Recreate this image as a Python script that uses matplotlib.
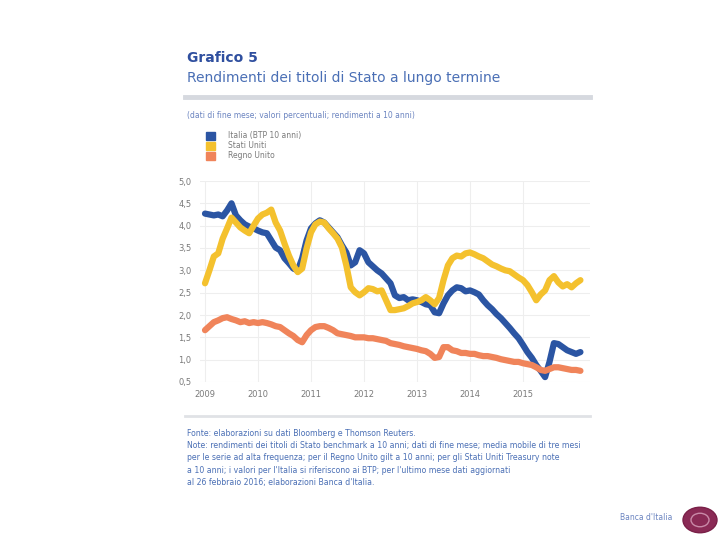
import numpy as np
import matplotlib
matplotlib.use("Agg")
import matplotlib.pyplot as plt
from matplotlib.patches import Circle

# monthly data, Jan 2009 - Feb 2016
start_year = 2009
blue = [4.27, 4.25, 4.23, 4.25, 4.21, 4.34, 4.50, 4.23, 4.12, 4.03, 3.98, 3.94,
        3.89, 3.85, 3.83, 3.67, 3.51, 3.45, 3.27, 3.16, 3.04, 3.00, 3.27, 3.67,
        3.94, 4.05, 4.12, 4.07, 3.96, 3.85, 3.74, 3.56, 3.40, 3.11, 3.18, 3.45,
        3.38, 3.18, 3.09, 3.00, 2.93, 2.82, 2.71, 2.44, 2.38, 2.40, 2.33, 2.35,
        2.33, 2.29, 2.24, 2.22, 2.06, 2.04, 2.26, 2.44, 2.55, 2.62, 2.60, 2.53,
        2.55, 2.51, 2.46, 2.33, 2.22, 2.13, 2.02, 1.93, 1.82, 1.71, 1.59, 1.48,
        1.33, 1.17, 1.04, 0.88, 0.75, 0.61, 0.95, 1.37, 1.35, 1.28, 1.21, 1.17,
        1.13, 1.17]
yellow = [2.71, 3.00, 3.31, 3.38, 3.71, 3.94, 4.18, 4.07, 3.96, 3.89, 3.83, 4.00,
          4.16, 4.25, 4.29, 4.36, 4.07, 3.89, 3.60, 3.33, 3.11, 2.96, 3.04, 3.49,
          3.85, 4.03, 4.09, 4.07, 3.94, 3.83, 3.71, 3.51, 3.11, 2.62, 2.51, 2.44,
          2.51, 2.60, 2.58, 2.53, 2.55, 2.33, 2.11, 2.11, 2.13, 2.15, 2.20, 2.26,
          2.29, 2.33, 2.40, 2.33, 2.24, 2.38, 2.78, 3.11, 3.27, 3.33, 3.31, 3.38,
          3.40, 3.36, 3.31, 3.27, 3.20, 3.13, 3.09, 3.04, 3.00, 2.98, 2.91, 2.84,
          2.78, 2.67, 2.51, 2.33, 2.46, 2.55, 2.78, 2.87, 2.73, 2.64, 2.69, 2.62,
          2.71, 2.78]
orange = [1.66, 1.75, 1.84, 1.88, 1.93, 1.95, 1.91, 1.88, 1.84, 1.86, 1.82, 1.84,
          1.82, 1.84, 1.82, 1.79, 1.75, 1.73, 1.66, 1.59, 1.53, 1.44, 1.39, 1.55,
          1.66, 1.73, 1.75, 1.75, 1.71, 1.66, 1.59, 1.57, 1.55, 1.53, 1.50, 1.50,
          1.50, 1.48, 1.48, 1.46, 1.44, 1.42, 1.37, 1.35, 1.33, 1.30, 1.28, 1.26,
          1.24, 1.21, 1.19, 1.13, 1.04, 1.06, 1.28, 1.28, 1.21, 1.19, 1.15, 1.15,
          1.13, 1.13, 1.10, 1.08, 1.08, 1.06, 1.04, 1.01, 0.99, 0.97, 0.95, 0.95,
          0.92, 0.90, 0.88, 0.83, 0.77, 0.75, 0.79, 0.83, 0.83, 0.81, 0.79, 0.77,
          0.77, 0.75]
labels = ["Italia (BTP 10 anni)", "Stati Uniti", "Regno Unito"]
colors = ["#2b55a3", "#f4c12e", "#f0845a"]
year_ticks = [2009, 2010, 2011, 2012, 2013, 2014, 2015]
y_ticks = [0.5, 1.0, 1.5, 2.0, 2.5, 3.0, 3.5, 4.0, 4.5, 5.0]

t = start_year + np.arange(len(blue)) / 12.0

fig = plt.figure(figsize=(7.2, 5.4), dpi=100)
fig.patch.set_facecolor("white")

ax = fig.add_axes([200 / 720, 1 - 382 / 540, 390 / 720, 201 / 540])
for vals, c in zip([blue, yellow, orange], colors):
    ax.plot(t, vals, color=c, lw=4.5, solid_capstyle="round", solid_joinstyle="round")

ax.set_ylim(0.5, 5.0)
ax.set_xlim(2009 - 5 / 53, 2009 + 390 / 53 - 5 / 53)
ax.set_yticks(y_ticks)
ax.set_yticklabels([f"{v:.1f}".replace(".", ",") for v in y_ticks])
ax.set_xticks(year_ticks)
ax.set_xticklabels([str(y) for y in year_ticks])
ax.tick_params(length=0, labelsize=6, colors="#7a7a7a", pad=6)
ax.grid(True, color="#eeeeee", lw=0.8)
ax.set_axisbelow(True)
for s in ax.spines.values():
    s.set_visible(False)

# header
fig.text(187 / 720, 1 - 58 / 540, "Grafico 5", fontsize=10, fontweight="bold",
         color="#2f4f9f", va="center")
fig.text(187 / 720, 1 - 78 / 540, "Rendimenti dei titoli di Stato a lungo termine",
         fontsize=10, color="#4a6fb5", va="center")
fig.add_artist(plt.Line2D([185 / 720, 590 / 720], [1 - 97 / 540] * 2, color="#d6d9df", lw=3.5))
fig.text(187 / 720, 1 - 115 / 540, "(dati di fine mese; valori percentuali; rendimenti a 10 anni)",
         fontsize=5.5, color="#6b84c0", va="center")

# legend
for i, (lab, c) in enumerate(zip(labels, colors)):
    yy = 1 - (136 + 10 * i) / 540
    fig.patches.append(plt.Rectangle((206 / 720, yy - 4 / 540), 9 / 720, 8 / 540,
                                     color=c, transform=fig.transFigure))
    fig.text(228 / 720, yy, lab, fontsize=5.5, color="#7a7a7a", va="center")

# footer
fig.add_artist(plt.Line2D([185 / 720, 590 / 720], [1 - 416 / 540] * 2, color="#e0e2e6", lw=2))
notes = [
    "Fonte: elaborazioni su dati Bloomberg e Thomson Reuters.",
    "Note: rendimenti dei titoli di Stato benchmark a 10 anni; dati di fine mese; media mobile di tre mesi",
    "per le serie ad alta frequenza; per il Regno Unito gilt a 10 anni; per gli Stati Uniti Treasury note",
    "a 10 anni; i valori per l'Italia si riferiscono ai BTP; per l'ultimo mese dati aggiornati",
    "al 26 febbraio 2016; elaborazioni Banca d'Italia.",
]
for i, line in enumerate(notes):
    fig.text(187 / 720, 1 - (433 + 12.5 * i) / 540, line, fontsize=5.6, color="#4a6fb5", va="center")

fig.text(672 / 720, 1 - 517 / 540, "Banca d'Italia", fontsize=5.5, color="#6b84c0",
         va="center", ha="right")
fig.patches.append(Circle((700 / 720, 1 - 520 / 540), 17 / 720, transform=fig.transFigure,
                          facecolor="#8a2a55", edgecolor="#7a2048"))
fig.patches.append(Circle((700 / 720, 1 - 520 / 540), 9 / 720, transform=fig.transFigure,
                          facecolor="none", edgecolor="#c98aa8", lw=1))

fig.savefig("out.png", dpi=100)
